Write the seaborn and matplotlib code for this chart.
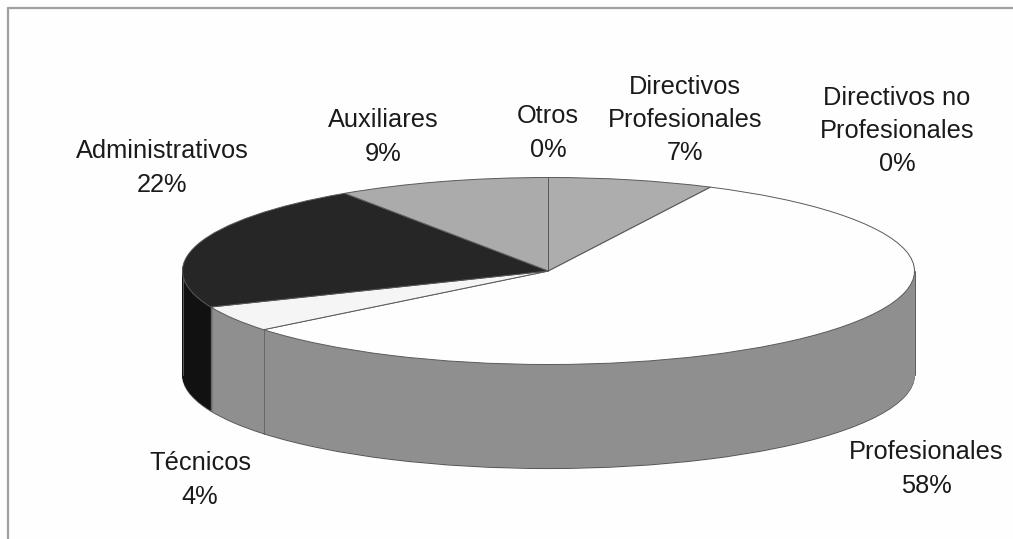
import matplotlib
matplotlib.use("Agg")
import matplotlib.pyplot as plt
from matplotlib.lines import Line2D
import numpy as np
import seaborn as sns

# Data, clockwise from 12 o'clock
categories = ["Directivos\nProfesionales", "Directivos no\nProfesionales", "Profesionales",
              "Técnicos", "Administrativos", "Auxiliares", "Otros"]
values = [7.3, 0.0, 56.9, 4.5, 21.9, 9.4, 0.0]
percent_labels = ["7%", "0%", "58%", "4%", "22%", "9%", "0%"]

top_colors = ["#adadad", "#ffffff", "#fefefe", "#f5f5f5", "#262626", "#ababab", "#ababab"]
side_colors = ["#8f8f8f", "#8f8f8f", "#8f8f8f", "#8f8f8f", "#111111", "#8f8f8f", "#8f8f8f"]

# Layout in reference pixels
W, H = 1013, 539
CX, CY, RX, RY, DEPTH = 548.5, 271.0, 366.0, 93.5, 104
label_centres = [(685, 120), (897, 131), (926, 469), (200, 480), (162, 168), (383, 137), (548, 133)]

sns.set_theme(style="white", rc={"figure.facecolor": "#fefefe", "axes.facecolor": "#fefefe"})
plt.rcParams["font.family"] = ["Liberation Sans", "DejaVu Sans"]

fig = plt.figure(figsize=(W / 100, H / 100), dpi=100)
ax = fig.add_axes([0, 0, 1, 1])
EDGE = "#5a5a5a"
depth_u = DEPTH / RY

def flat(colors, offset, edge=None, lw=0.7):
    """One horizontal slice of the cake, offset downward."""
    wedges, _ = ax.pie(values, colors=colors, startangle=90, counterclock=False,
                       center=(0, -offset), radius=1, frame=False, normalize=True,
                       wedgeprops={"linewidth": lw, "edgecolor": edge if edge else "none"})
    return wedges

# side wall: stacked slices from the bottom up
flat(side_colors, depth_u, edge=EDGE, lw=0.8)
for k in range(DEPTH - 1, 0, -1):
    off = depth_u * k / DEPTH
    for w, c in zip(flat(side_colors, off), side_colors):
        w.set_edgecolor(c)
        w.set_linewidth(0.5)

# vertical seams on the front wall and silhouette edges
cum = np.cumsum(values) / np.sum(values) * 2 * np.pi
for a in cum[2:4]:
    x, y = np.sin(a), np.cos(a)
    ax.plot([x, x], [y, y - depth_u], color="#666666", lw=0.7, zorder=5)
for x in (-1, 1):
    ax.plot([x, x], [0, -depth_u], color=EDGE, lw=0.7, zorder=5)

# top face
for w in flat(top_colors, 0, edge=EDGE, lw=0.7):
    w.set_zorder(6)

ax.set_aspect("auto")
ax.set_xlim(-CX / RX, (W - CX) / RX)
ax.set_ylim((CY - H) / RY, CY / RY)
ax.axis("off")

# labels
for cat, pct, (px, py) in zip(categories, percent_labels, label_centres):
    fig.text(px / W, 1 - py / H, f"{cat}\n{pct}", ha="center", va="center",
             fontsize=18.3, color="#1a1a1a", linespacing=1.48)

# grey frame at top and left
fig.add_artist(Line2D([7.5 / W, 7.5 / W], [0, 1 - 7.5 / H], color="#a0a0a0", lw=1.6))
fig.add_artist(Line2D([7.5 / W, 1], [1 - 7.5 / H, 1 - 7.5 / H], color="#a0a0a0", lw=1.6))

fig.savefig("out.png", dpi=100, facecolor=fig.get_facecolor())
